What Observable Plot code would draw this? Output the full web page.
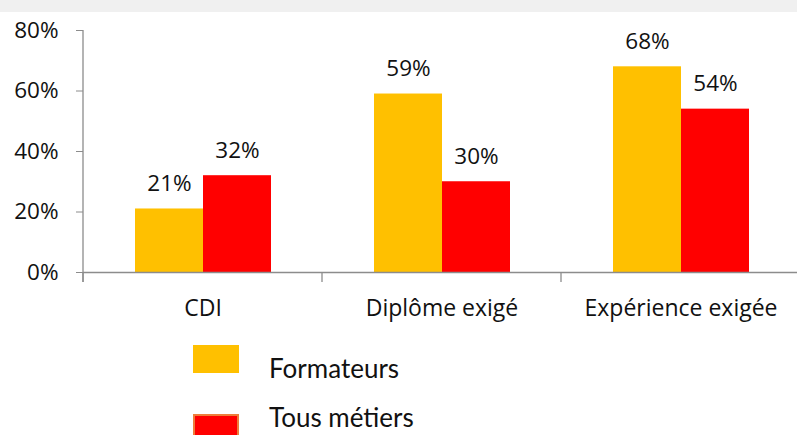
<!DOCTYPE html>
<html>
<head>
<meta charset="utf-8">
<script src="https://cdn.jsdelivr.net/npm/d3@7"></script>
<script src="https://cdn.jsdelivr.net/npm/@observablehq/plot@0.6"></script>
<style>
  html, body { margin: 0; padding: 0; background: #fff; }
  #wrap { position: relative; width: 797px; height: 435px; overflow: hidden; }
  #band { position: absolute; left: 0; top: 0; width: 797px; height: 12px; background: #f0f0f0; }
  #chart { position: absolute; left: 0; top: 0; }
  .sw { position: absolute; box-sizing: border-box; }
  .lt { position: absolute; font-family: "Lato", "Open Sans", sans-serif; font-size: 26px; color: #111; line-height: 0.9; white-space: nowrap; }
</style>
</head>
<body>
<div id="wrap">
  <div id="chart"></div>
  <div id="band"></div>
  <div id="legend"></div>
</div>
<script>
const categories = ["CDI", "Diplôme exigé", "Expérience exigée"];
const seriesNames = ["Formateurs", "Tous métiers"];
const formateurs = [0.21, 0.59, 0.68];
const tousMetiers = [0.32, 0.30, 0.54];
const colors = ["#FFC000", "#FF0000"];
const yTicks = [0, 0.2, 0.4, 0.6, 0.8];

const data = [];
categories.forEach((c, i) => {
  data.push({cat: c, series: seriesNames[0], value: formateurs[i]});
  data.push({cat: c, series: seriesNames[1], value: tousMetiers[i]});
});
const pct = d3.format(".0%");
const axisGray = "#8c8c8c";

const plot = Plot.plot({
  width: 797,
  height: 330,
  marginTop: 30,
  marginBottom: 58,
  marginLeft: 83,
  marginRight: 0,
  style: {fontFamily: "'Open Sans', sans-serif", fontSize: "23px", background: "transparent", overflow: "visible"},
  fx: {domain: categories, range: [83, 800], padding: 0, label: null},
  x: {domain: seriesNames, paddingInner: 0, paddingOuter: 0.757, axis: null},
  y: {domain: [0, 0.8], label: null},
  color: {domain: seriesNames, range: colors},
  marks: [
    Plot.barY(data, {fx: "cat", x: "series", y: "value", fill: "series"}),
    Plot.ruleY([0], {stroke: axisGray, strokeWidth: 1.3}),
    Plot.text(data, {fx: "cat", x: "series", y: "value", text: d => pct(d.value), dy: -25, fontSize: 22.5, fill: "#111", lineAnchor: "middle"}),
    Plot.axisY({ticks: yTicks, tickFormat: pct, tickSize: 7, tickPadding: 18, fontSize: 22.5, stroke: axisGray, fill: "#111", label: null}),
    Plot.axisFx({anchor: "bottom", tickSize: 0, tickPadding: 27, fontSize: 23, fill: "#111", label: null})
  ]
});
document.getElementById("chart").appendChild(plot);

// axis lines and category boundary ticks from the library's scales
const fx = plot.scale("fx");
const ys = plot.scale("y");
const y0 = ys.apply(0), yTop = ys.apply(0.8);
const svg = d3.select(plot);
const g = svg.append("g").attr("stroke", axisGray).attr("stroke-width", 1.3);
const left = fx.apply(categories[0]);
g.append("line").attr("x1", left).attr("x2", left).attr("y1", yTop).attr("y2", y0 + 10);
categories.forEach(c => {
  const x = fx.apply(c);
  g.append("line").attr("x1", x).attr("x2", x).attr("y1", y0).attr("y2", y0 + 10);
});

// legend
const legend = document.getElementById("legend");
const swatchTops = [345, 414];
const textTops = [357, 406];
seriesNames.forEach((s, i) => {
  const sw = document.createElement("div");
  sw.className = "sw";
  sw.style.left = "193px";
  sw.style.top = swatchTops[i] + "px";
  sw.style.width = "46px";
  sw.style.height = "28px";
  sw.style.background = colors[i];
  if (i === 1) sw.style.border = "2px solid #EE7D3A";
  legend.appendChild(sw);
  const t = document.createElement("div");
  t.className = "lt";
  t.style.left = "269px";
  t.style.top = textTops[i] + "px";
  t.textContent = s;
  legend.appendChild(t);
});
</script>
</body>
</html>
